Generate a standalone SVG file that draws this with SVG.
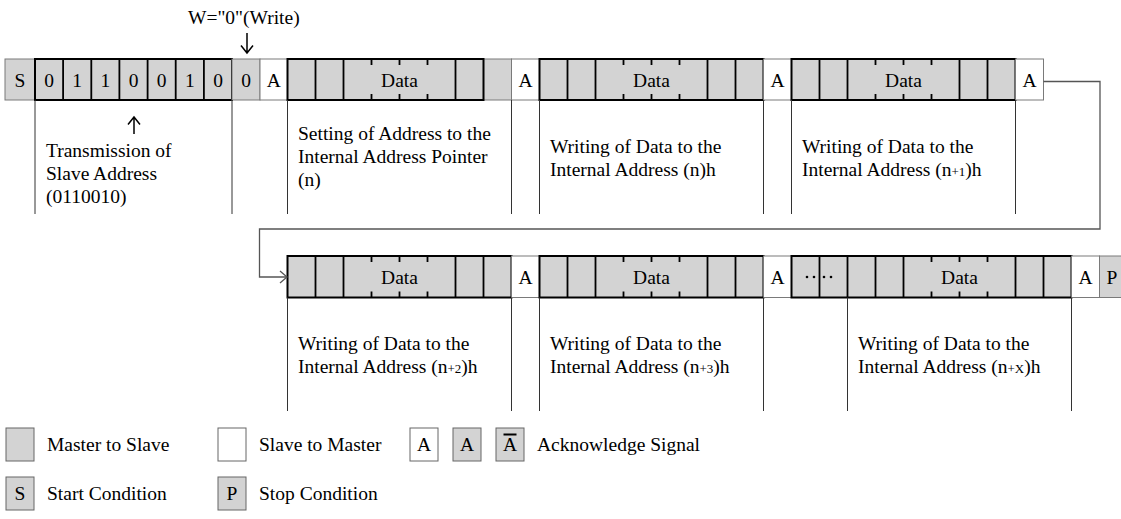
<svg xmlns="http://www.w3.org/2000/svg" width="1121" height="519" viewBox="0 0 1121 519">
<style>
.g{fill:#d3d3d3}
.w{fill:#fff}
.thin{stroke:#7a7a7a;stroke-width:1}
.thick{fill:none;stroke:#000;stroke-width:2}
.dv{stroke:#000;stroke-width:1.8}
.tk{stroke:#000;stroke-width:1.8}
.t{font-family:"Liberation Serif","Times New Roman",serif;font-size:19.5px;fill:#000}
.c{text-anchor:middle}
.sm{font-size:13px}
.sep{stroke:#333;stroke-width:1}
.conn{fill:none;stroke:#555;stroke-width:1.3}
.arr{fill:none;stroke:#000;stroke-width:1.5}
.lg{stroke:#666;stroke-width:1}
</style>
<rect width="1121" height="519" fill="#fff"/>

<!-- Row 1 -->
<g id="start">
<rect x="5" y="59" width="30" height="41" class="g thin"/>
<text x="20" y="86.5" class="t c">S</text>
</g>
<g id="slave-address">
<rect x="35" y="59" width="197" height="41" class="g"/>
<rect x="35" y="59" width="197" height="41" class="thick"/>
<path class="dv" d="M63.1,59V100M91.3,59V100M119.4,59V100M147.6,59V100M175.7,59V100M203.9,59V100"/>
<text y="86.5" class="t c"><tspan x="49.1">0</tspan><tspan x="77.2">1</tspan><tspan x="105.4">1</tspan><tspan x="133.5">0</tspan><tspan x="161.6">0</tspan><tspan x="189.8">1</tspan><tspan x="218">0</tspan></text>
</g>
<g id="write-bit">
<rect x="232" y="59" width="28" height="41" class="g thin"/>
<text x="246" y="86.5" class="t c">0</text>
</g>
<g id="ack1">
<rect x="260" y="59" width="27.5" height="41" class="w thin"/>
<text x="273.75" y="86.5" class="t c">A</text>
</g>
<g id="data1">
<rect x="287.5" y="59" width="224" height="41" class="g"/>
<rect x="483.5" y="59" width="28" height="41" class="g thin"/>
<rect x="287.5" y="59" width="196" height="41" class="thick"/>
<path class="dv" d="M315.5,59V100M343.5,59V100M455.5,59V100"/>
<path class="tk" d="M371.5,59v6M399.5,59v6M427.5,59v6M371.5,100v-6M399.5,100v-6M427.5,100v-6"/>
<text x="399.5" y="86.5" class="t c">Data</text>
</g>
<g id="ack2">
<rect x="511.5" y="59" width="28" height="41" class="w thin"/>
<text x="525.5" y="86.5" class="t c">A</text>
</g>
<g id="data2">
<rect x="539.5" y="59" width="224" height="41" class="g"/>
<rect x="539.5" y="59" width="224" height="41" class="thick"/>
<path class="dv" d="M567.5,59V100M595.5,59V100M707.5,59V100M735.5,59V100"/>
<path class="tk" d="M623.5,59v6M651.5,59v6M679.5,59v6M623.5,100v-6M651.5,100v-6M679.5,100v-6"/>
<text x="651.5" y="86.5" class="t c">Data</text>
</g>
<g id="ack3">
<rect x="763.5" y="59" width="28" height="41" class="w thin"/>
<text x="777.5" y="86.5" class="t c">A</text>
</g>
<g id="data3">
<rect x="791.5" y="59" width="224" height="41" class="g"/>
<rect x="791.5" y="59" width="224" height="41" class="thick"/>
<path class="dv" d="M819.5,59V100M847.5,59V100M959.5,59V100M987.5,59V100"/>
<path class="tk" d="M875.5,59v6M903.5,59v6M931.5,59v6M875.5,100v-6M903.5,100v-6M931.5,100v-6"/>
<text x="903.5" y="86.5" class="t c">Data</text>
</g>
<g id="ack4">
<rect x="1015.5" y="59" width="28" height="41" class="w thin"/>
<text x="1029.5" y="86.5" class="t c">A</text>
</g>

<!-- Row 2 -->
<g id="data4">
<rect x="287.5" y="256" width="224" height="41.5" class="g"/>
<rect x="287.5" y="256" width="224" height="41.5" class="thick"/>
<path class="dv" d="M315.5,256V297.5M343.5,256V297.5M455.5,256V297.5M483.5,256V297.5"/>
<path class="tk" d="M371.5,256v6M399.5,256v6M427.5,256v6M371.5,297.5v-6M399.5,297.5v-6M427.5,297.5v-6"/>
<text x="399.5" y="284" class="t c">Data</text>
</g>
<g id="ack5">
<rect x="511.5" y="256" width="28" height="41.5" class="w thin"/>
<text x="525.5" y="284" class="t c">A</text>
</g>
<g id="data5">
<rect x="539.5" y="256" width="224" height="41.5" class="g"/>
<rect x="539.5" y="256" width="224" height="41.5" class="thick"/>
<path class="dv" d="M567.5,256V297.5M595.5,256V297.5M707.5,256V297.5M735.5,256V297.5"/>
<path class="tk" d="M623.5,256v6M651.5,256v6M679.5,256v6M623.5,297.5v-6M651.5,297.5v-6M679.5,297.5v-6"/>
<text x="651.5" y="284" class="t c">Data</text>
</g>
<g id="ack6">
<rect x="763.5" y="256" width="28" height="41.5" class="w thin"/>
<text x="777.5" y="284" class="t c">A</text>
</g>
<g id="data6">
<rect x="791.5" y="256" width="280" height="41.5" class="g"/>
<rect x="791.5" y="256" width="280" height="41.5" class="thick"/>
<path class="dv" d="M819.5,256V297.5M847.5,256V297.5M875.5,256V297.5M903.5,256V297.5M1015.5,256V297.5M1043.5,256V297.5"/>
<path class="tk" d="M931.5,256v6M959.5,256v6M987.5,256v6M931.5,297.5v-6M959.5,297.5v-6M987.5,297.5v-6"/>
<g fill="#000"><circle cx="807" cy="277" r="1.3"/><circle cx="814" cy="277" r="1.3"/><circle cx="824" cy="277" r="1.3"/><circle cx="831" cy="277" r="1.3"/></g>
<text x="959.5" y="284" class="t c">Data</text>
</g>
<g id="ack7">
<rect x="1071.5" y="256" width="28" height="41.5" class="w thin"/>
<text x="1085.5" y="284" class="t c">A</text>
</g>
<g id="stop">
<rect x="1099.5" y="256" width="28" height="41.5" class="g thin"/>
<text x="1112" y="284" class="t c">P</text>
</g>

<!-- Description separators -->
<g id="separators" class="sep">
<path d="M35,100V214M232,100V214M287.5,100V214M511.5,100V214M539.5,100V214M763.5,100V214M791.5,100V214M1015.5,100V214"/>
<path d="M287.5,297.5V411M511.5,297.5V411M539.5,297.5V411M763.5,297.5V411M847.5,297.5V411M1071.5,297.5V411"/>
</g>

<!-- Descriptions -->
<g id="desc-address">
<text class="t"><tspan x="46" y="157">Transmission of</tspan><tspan x="46" y="180">Slave Address</tspan><tspan x="46" y="203">(0110010)</tspan></text>
</g>
<g id="desc-pointer">
<text class="t"><tspan x="298" y="140">Setting of Address to the</tspan><tspan x="298" y="163">Internal Address Pointer</tspan><tspan x="298" y="186">(n)</tspan></text>
</g>
<g id="desc-n">
<text class="t"><tspan x="550" y="153">Writing of Data to the</tspan><tspan x="550" y="176">Internal Address (n)h</tspan></text>
</g>
<g id="desc-n1">
<text class="t"><tspan x="802" y="153">Writing of Data to the</tspan><tspan x="802" y="176">Internal Address (n<tspan class="sm">+1</tspan>)h</tspan></text>
</g>
<g id="desc-n2">
<text class="t"><tspan x="298" y="350">Writing of Data to the</tspan><tspan x="298" y="373">Internal Address (n<tspan class="sm">+2</tspan>)h</tspan></text>
</g>
<g id="desc-n3">
<text class="t"><tspan x="550" y="350">Writing of Data to the</tspan><tspan x="550" y="373">Internal Address (n<tspan class="sm">+3</tspan>)h</tspan></text>
</g>
<g id="desc-nx">
<text class="t"><tspan x="858" y="350">Writing of Data to the</tspan><tspan x="858" y="373">Internal Address (n<tspan class="sm">+X</tspan>)h</tspan></text>
</g>

<!-- Annotations -->
<g id="write-label">
<text x="188" y="24" class="t">W="0"(Write)</text>
</g>

<!-- Connectors -->
<g id="connectors">
<path class="arr" d="M247,33V53M241,45.5L247,53L253,45.5"/>
<path class="arr" d="M134,117V134M128,124.5L134,117L140,124.5"/>
<path class="conn" d="M1043.5,81.5H1100V229H259.5V277H287"/>
<path class="conn" d="M280,271L287,277L280,283"/>
</g>

<!-- Legend -->
<g id="legend-m2s">
<rect x="6" y="428" width="28" height="33" class="g lg"/>
<text x="47" y="451" class="t">Master to Slave</text>
</g>
<g id="legend-s2m">
<rect x="218" y="428" width="28" height="33" class="w lg"/>
<text x="259" y="451" class="t">Slave to Master</text>
</g>
<g id="legend-ack">
<rect x="410" y="428" width="28" height="33" class="w lg"/>
<text x="424" y="451" class="t c">A</text>
<rect x="453" y="428" width="28" height="33" class="g lg"/>
<text x="467" y="451" class="t c">A</text>
<rect x="496" y="428" width="28" height="33" class="g lg"/>
<text x="510" y="451" class="t c">A</text>
<line x1="503.5" y1="434.5" x2="516.5" y2="434.5" stroke="#000" stroke-width="2"/>
<text x="537" y="451" class="t">Acknowledge Signal</text>
</g>
<g id="legend-start">
<rect x="6" y="477" width="28" height="33" class="g lg"/>
<text x="20" y="500" class="t c">S</text>
<text x="47" y="500" class="t">Start Condition</text>
</g>
<g id="legend-stop">
<rect x="218" y="477" width="28" height="33" class="g lg"/>
<text x="232" y="500" class="t c">P</text>
<text x="259" y="500" class="t">Stop Condition</text>
</g>
</svg>
